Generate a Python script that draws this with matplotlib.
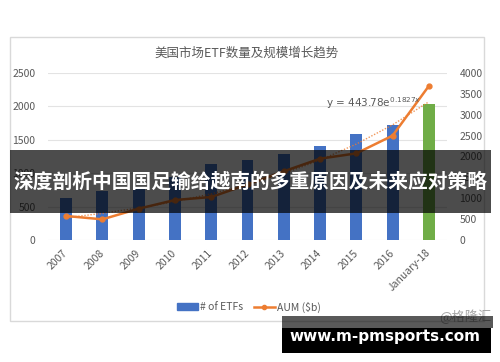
import numpy as np
import matplotlib.pyplot as plt
from matplotlib.patches import Rectangle
from matplotlib.lines import Line2D

plt.rcParams['font.family'] = ['Noto Sans CJK SC', 'DejaVu Sans']

# data
years = ['2007', '2008', '2009', '2010', '2011', '2012', '2013', '2014', '2015', '2016', 'January-18']
num_etfs = [630, 728, 800, 950, 1134, 1194, 1294, 1411, 1594, 1716, 2040]
aum = [575, 495, 750, 958, 1030, 1330, 1645, 1948, 2075, 2500, 3690]
trend_a = 443.78
trend_b = 0.1827

W, H = 500, 362
gray = '#595959'
blue = '#4472c4'
green = '#70ad47'
orange = '#ed7d31'


def fx(px):
    return px / W


def fy(py):
    return 1 - py / H


fig = plt.figure(figsize=(W / 100, H / 100), dpi=100)
fig.patch.set_facecolor('white')

# outer chart frame
fig.patches.append(Rectangle((fx(10), fy(321)), fx(474), (321 - 37) / H, transform=fig.transFigure,
                             fill=False, edgecolor='#d9d9d9', linewidth=1, zorder=0))

ax = fig.add_axes([fx(48), fy(240), fx(399), 167 / H])
x = np.arange(len(years))
colors = [blue] * (len(years) - 1) + [green]
ax.bar(x, num_etfs, width=0.33, color=colors, zorder=2)
ax.set_xlim(-0.5, len(years) - 0.5)
ax.set_ylim(0, 2500)
ax.set_yticks(np.arange(0, 2501, 500))
ax.grid(axis='y', color='#e3e3e3', linewidth=0.8, zorder=0)
ax.set_axisbelow(True)
for s in ax.spines.values():
    s.set_visible(False)
ax.tick_params(length=0, colors=gray, labelsize=7.5)
ax.tick_params(axis='y', pad=9)
ax.set_xticks(x)
ax.set_xticklabels(years, rotation=45, ha='right', va='center', rotation_mode='anchor')
ax.tick_params(axis='x', pad=8)

ax2 = ax.twinx()
ax2.set_ylim(0, 4000)
ax2.set_yticks(np.arange(0, 4001, 500))
for s in ax2.spines.values():
    s.set_visible(False)
ax2.tick_params(length=0, colors=gray, labelsize=7.5, pad=9)
ax2.plot(x, aum, color=orange, linewidth=1.8, marker='o', markersize=3.5, zorder=3)
trend = trend_a * np.exp(trend_b * (x + 1))
ax2.plot(x, trend, color=orange, linewidth=1, linestyle=(0, (1, 1.2)), alpha=0.8, zorder=3)
ax2.text(9.8, 3290, r'y = 443.78e$^{0.1827x}$', ha='right', va='center', fontsize=7.5, color=gray,
         family='DejaVu Sans')

fig.text(fx(247), fy(53), '美国市场ETF数量及规模增长趋势', ha='center', va='center', fontsize=9, color=gray)

handles = [Rectangle((0, 0), 1, 1, color=blue),
           Line2D([], [], color=orange, linewidth=1.8, marker='o', markersize=3)]
fig.legend(handles, ['# of ETFs', 'AUM ($b)'], loc='center', bbox_to_anchor=(fx(249), fy(307)), ncol=2,
           frameon=False, fontsize=7.5, labelcolor=gray, handlelength=2.0, handleheight=0.6,
           columnspacing=1.0, handletextpad=0.2)

# overlay banner
fig.patches.append(Rectangle((fx(10), fy(213)), fx(481), 63 / H, transform=fig.transFigure,
                             facecolor='black', alpha=0.7, edgecolor='none', zorder=10))
fig.text(fx(250), fy(182), '深度剖析中国国足输给越南的多重原因及未来应对策略', ha='center', va='center',
         fontsize=14.2, fontweight='bold', color='white', zorder=11)

# watermarks
fig.text(fx(492), fy(317), '@格隆汇', ha='right', va='center', fontsize=9.5, color='#a6a6a6', zorder=9)
fig.patches.append(Rectangle((fx(282), fy(328)), fx(211), 12 / H, transform=fig.transFigure,
                             facecolor='black', alpha=0.65, edgecolor='none', zorder=10))
fig.patches.append(Rectangle((fx(282), fy(353)), fx(209), 25 / H, transform=fig.transFigure,
                             facecolor='black', edgecolor='none', zorder=10))
fig.text(fx(385), fy(337), 'www.m-pmsports.com', ha='center', va='center', fontsize=11,
         fontweight='bold', color='white', family='DejaVu Sans', zorder=11)

fig.savefig('out.png', dpi=100)
